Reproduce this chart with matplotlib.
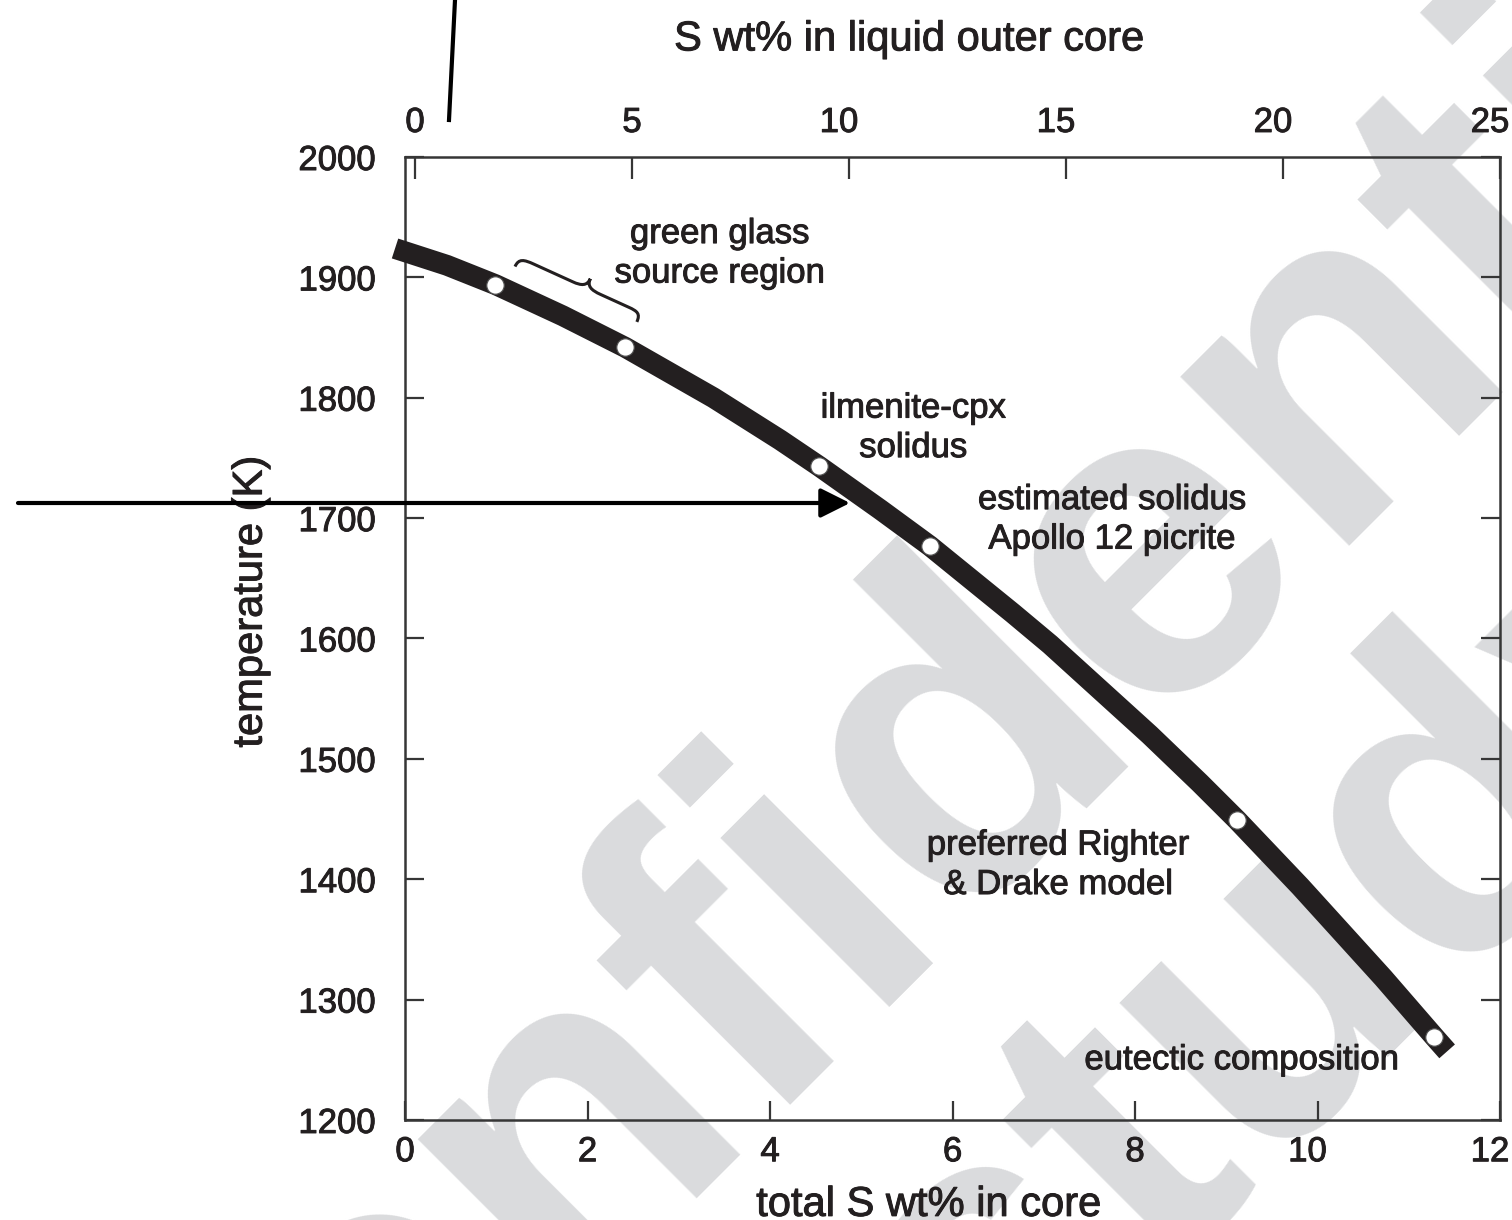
import numpy as np
import matplotlib
matplotlib.use('Agg')
import matplotlib.pyplot as plt
import matplotlib.patheffects as pe
from matplotlib.lines import Line2D
from matplotlib.path import Path
from matplotlib.patches import PathPatch
from matplotlib.transforms import IdentityTransform, ScaledTranslation

plt.rcParams['font.family'] = ['Liberation Sans', 'DejaVu Sans']

# solidus band: total S wt% in core vs temperature (K)
curve_s = [-0.11, 0.46, 0.99, 1.73, 2.41, 3.38, 4.11, 4.54, 5.21, 5.75,
           6.66, 7.07, 8.16, 8.71, 9.12, 9.81, 10.72, 11.28, 11.42]
curve_t = [1924, 1910, 1894, 1868, 1842, 1800, 1765, 1743, 1707, 1677,
           1621, 1595, 1520, 1480, 1449, 1394, 1318, 1269, 1257]

# open circles on the band
point_s = [0.99, 2.41, 4.54, 5.75, 9.12, 11.28]
point_t = [1894, 1842, 1743, 1677, 1449, 1269]

bottom_ticks = [0, 2, 4, 6, 8, 10, 12]
top_ticks = [0, 5, 10, 15, 20, 25]
temp_ticks = [1200, 1300, 1400, 1500, 1600, 1700, 1800, 1900, 2000]

notes = ['green glass\nsource region', 'ilmenite-cpx\nsolidus',
         'estimated solidus\nApollo 12 picrite',
         'preferred Righter\n& Drake model', 'eutectic composition']
note_s = [3.45, 5.57, 7.75, 7.16, 9.17]
note_t = [1920, 1775, 1699, 1412, 1250]

# ends of the brace over the green glass section (data units)
brace_from = (1.205, 1909)
brace_to = (2.54, 1863)

ink = '#231f20'
frame = '#363636'
wm = '#dadbdd'
bolder = [pe.withStroke(linewidth=0.7, foreground=ink)]

fig = plt.figure(figsize=(15.12, 12.2), dpi=100)

# watermark behind everything
fig.text(0.662, 0.417, 'confidential', rotation=45, fontsize=325,
         color=wm, weight='bold', ha='center', va='center', zorder=0)
fig.text(0.87, 0.215, 'study', rotation=45, fontsize=310,
         color=wm, weight='bold', ha='center', va='center', zorder=0)

ax = fig.add_axes([0.2679, 0.0820, 0.7242, 0.7893], zorder=1)
ax.set_facecolor('none')

ax.plot(curve_s, curve_t, color=ink, lw=15, solid_capstyle='butt',
        solid_joinstyle='round', clip_on=False, zorder=3)
ax.plot(point_s, point_t, 'o', ms=12.5, mfc='white', mec='#555555', mew=0.8,
        zorder=4, clip_on=False)

ax.set_xlim(0, 12)
ax.set_ylim(1200, 2000)
ax.set_xticks(bottom_ticks)
ax.set_yticks(temp_ticks)
ax.tick_params(axis='y', direction='in', length=14, width=1.6, color=frame,
               labelsize=25, pad=21, right=True, labelcolor=ink)
ax.tick_params(axis='x', direction='in', length=14, width=1.6, color=frame,
               labelsize=25, pad=11, top=False, labelcolor=ink)
for sp in ax.spines.values():
    sp.set_color(frame)
    sp.set_linewidth(1.8)

xl = ax.set_xlabel('total S wt% in core', fontsize=30, color=ink,
                   labelpad=12, x=0.478)
yl = ax.set_ylabel('temperature (K)', fontsize=30, color=ink, labelpad=20,
                   y=0.538)

top = ax.twiny()
top.set_xlim(-0.23, 25)
top.set_xticks(top_ticks)
top.tick_params(axis='x', direction='in', length=16, width=1.6, color=frame,
                labelsize=25, pad=13, labelcolor=ink)
for sp in top.spines.values():
    sp.set_visible(False)
tl = top.set_xlabel('S wt% in liquid outer core', fontsize=30, color=ink,
                    labelpad=40, x=0.46)

# two-digit tick numbers sit a little left of their ticks in the original
shift = ScaledTranslation(-10 / 100, 0, fig.dpi_scale_trans)
for axis, ticks in ((ax.xaxis, bottom_ticks), (top.xaxis, top_ticks)):
    for tick, val in zip(axis.get_major_ticks(), ticks):
        if val >= 10:
            for lab in (tick.label1, tick.label2):
                lab.set_transform(lab.get_transform() + shift)

for lab in (ax.get_xticklabels() + ax.get_yticklabels()
            + top.get_xticklabels() + [xl, yl, tl]):
    lab.set_path_effects(bolder)

for text, s, t in zip(notes, note_s, note_t):
    ax.text(s, t, text, fontsize=25, color=ink, ha='center', va='center',
            linespacing=1.25, zorder=5, path_effects=bolder)

# curly brace, built in pixel space between its two data end points
p0 = ax.transData.transform(brace_from)
p1 = ax.transData.transform(brace_to)
along = p1 - p0
length = np.hypot(*along)
u = along / length
n = np.array([-u[1], u[0]])
height = 20
shape = [(0, 0), (0.0, 0.45), (0.04, 0.5), (0.12, 0.5), (0.44, 0.5),
         (0.51, 0.5), (0.55, 0.6), (0.55, 1.0), (0.55, 0.6), (0.59, 0.5),
         (0.67, 0.5), (0.90, 0.5), (0.97, 0.5), (1.0, 0.45), (1.0, 0.0)]
codes = [Path.MOVETO, Path.CURVE4, Path.CURVE4, Path.CURVE4, Path.LINETO,
         Path.CURVE4, Path.CURVE4, Path.CURVE4, Path.CURVE4, Path.CURVE4,
         Path.CURVE4, Path.LINETO, Path.CURVE4, Path.CURVE4, Path.CURVE4]
verts = [p0 + a * length * u + b * height * n for a, b in shape]
ax.add_patch(PathPatch(Path(verts, codes), transform=IdentityTransform(),
                       fill=False, ec=ink, lw=2.2, clip_on=False, zorder=5))

# overlay marks added on top of the figure
arrow_y = 1 - 503 / 1220
ax.annotate('', xy=(850 / 1512, arrow_y), xytext=(18 / 1512, arrow_y),
            xycoords='figure fraction', textcoords='figure fraction',
            arrowprops=dict(arrowstyle='-|>,head_length=0.9,head_width=0.45',
                            lw=3, color='black', mutation_scale=20,
                            shrinkA=0, shrinkB=0),
            annotation_clip=False, zorder=6)
fig.add_artist(Line2D([455 / 1512, 449 / 1512], [1.0, 1 - 120 / 1220],
                      transform=fig.transFigure, color='black', lw=3))

fig.savefig('out.png', dpi=100)
